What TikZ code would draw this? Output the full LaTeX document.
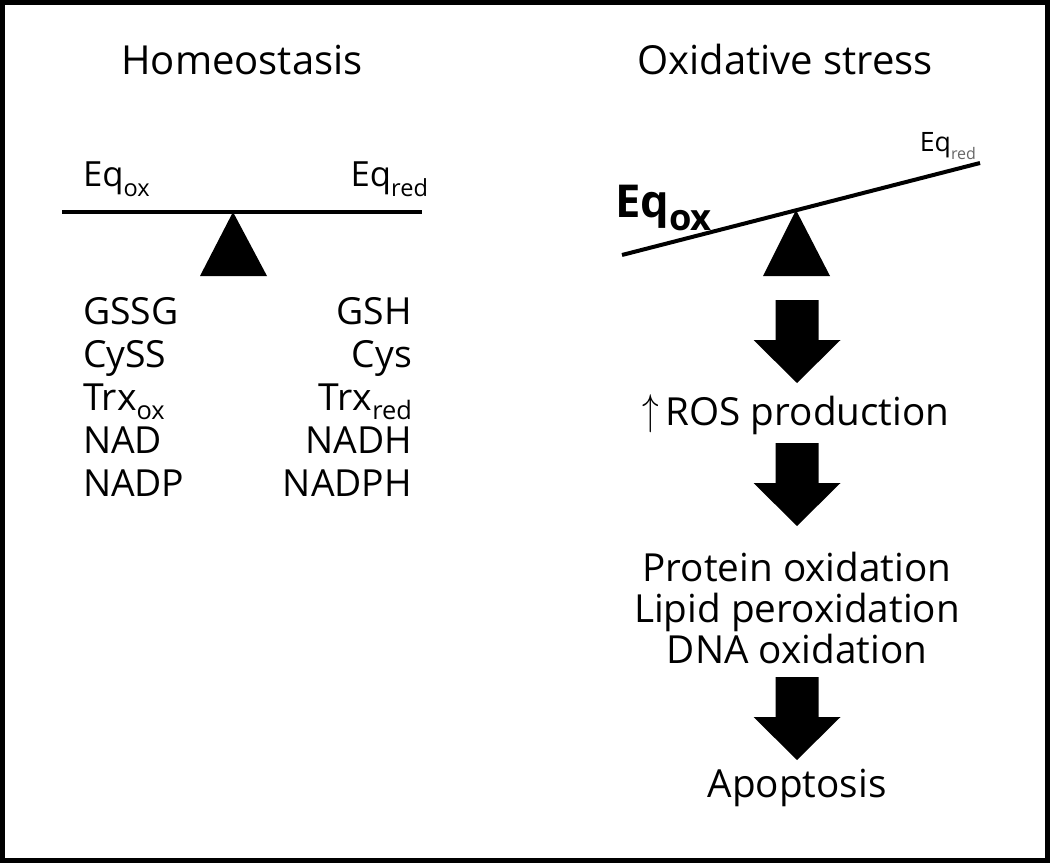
\documentclass[tikz,border=0pt]{standalone}
\usepackage{fontspec}
\setmainfont{Open Sans}
\newcommand\lowsub[2][0.68]{\raisebox{-0.5ex}{\scalebox{#1}{#2}}}
\begin{document}
\begin{tikzpicture}[x=0.75pt,y=-0.75pt,
  txt/.style={inner sep=0pt,outer sep=0pt},
  headtxt/.style={txt,anchor=base,font=\fontsize{30}{36}\selectfont},
  eqtxt/.style={txt,anchor=base,font=\fontsize{26}{31}\selectfont},
  listtxt/.style={txt,font=\fontsize{28}{33}\selectfont},
  flowtxt/.style={txt,anchor=base,font=\fontsize{29}{35}\selectfont},
  beam/.style={line width=3pt},
  fulcrum/.style={fill=black},
  blockarrow/.pic={\fill (-21.5,0) -- (21.5,0) -- (21.5,40) -- (43.5,40) -- (0,83) -- (-43.5,40) -- (-21.5,40) -- cycle;}
]
\useasboundingbox (0,0) rectangle (1050,863);
\draw[line width=3.75pt] (2.5,2.5) rectangle (1047.5,860.5);

% headings
\node[headtxt] (home) at (242,75) {Homeostasis};
\node[headtxt] (oxs) at (785,75) {Oxidative stress};

% left balance
\coordinate (lb1) at (62,212);
\coordinate (lb2) at (422,212);
\draw[beam] (lb1) -- (lb2);
\coordinate (lapex) at (233,212);
\fill[fulcrum] (lapex) -- (267,276) -- (200,276) -- cycle;
\node[eqtxt,anchor=base west] (leqox) at (83,187) {Eq\lowsub{ox}};
\node[eqtxt,anchor=base east] (leqred) at (428,187) {Eq\lowsub{red}};

% lists
\node[listtxt,anchor=base west] (l1) at (83,324) {GSSG};
\node[listtxt,anchor=base west] (l2) at (83,367) {CySS};
\node[listtxt,anchor=base west] (l3) at (83,410) {Trx\lowsub{ox}};
\node[listtxt,anchor=base west] (l4) at (83,453) {NAD};
\node[listtxt,anchor=base west] (l5) at (83,496) {NADP};
\node[listtxt,anchor=base east] (r1) at (412,324) {GSH};
\node[listtxt,anchor=base east] (r2) at (412,367) {Cys};
\node[listtxt,anchor=base east] (r3) at (412,410) {Trx\lowsub{red}};
\node[listtxt,anchor=base east] (r4) at (412,453) {NADH};
\node[listtxt,anchor=base east] (r5) at (412,496) {NADPH};

% right balance (tilted)
\coordinate (rb1) at (622,255);
\coordinate (rb2) at (980,163);
\draw[beam] (rb1) -- (rb2);
\coordinate (rapex) at (796,210);
\fill[fulcrum] (rapex) -- (830,276) -- (763,276) -- cycle;
\node[txt,anchor=base west,font=\fontsize{34}{40}\selectfont\bfseries] (reqox) at (615,218) {Eq\lowsub[0.8]{ox}};
\node[txt,anchor=base east,font=\fontsize{20}{24}\selectfont] (reqred) at (976,152) {Eq\lowsub[0.6]{\color{black!60}red}};

% flow
\pic at (797,300) {blockarrow};
\node[flowtxt] (ros) at (796,425) {\raisebox{0.02em}{\scalebox{1.0}[1.3]{$\uparrow$}}\,ROS production};
\pic at (797,443) {blockarrow};
\node[flowtxt] (p1) at (797,581) {Protein oxidation};
\node[flowtxt] (p2) at (797,622) {Lipid peroxidation};
\node[flowtxt] (p3) at (797,663) {DNA oxidation};
\pic at (797,677) {blockarrow};
\node[flowtxt] (apo) at (797,797) {Apoptosis};
\end{tikzpicture}
\end{document}
